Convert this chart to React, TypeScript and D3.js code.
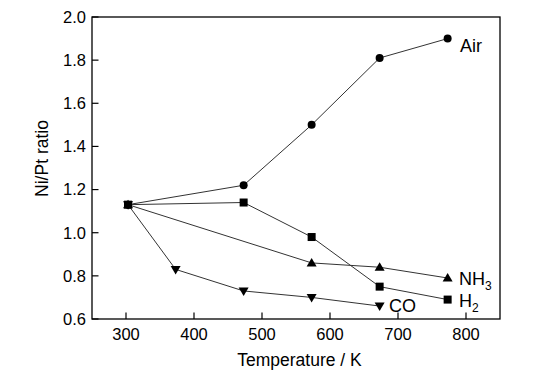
import React from "react";
import * as d3 from "d3";

const airX = [303, 473, 573, 673, 773];
const airY = [1.13, 1.22, 1.5, 1.81, 1.9];
const h2X = [303, 473, 573, 673, 773];
const h2Y = [1.13, 1.14, 0.98, 0.75, 0.69];
const nh3X = [303, 573, 673, 773];
const nh3Y = [1.13, 0.86, 0.84, 0.79];
const coX = [303, 373, 473, 573, 673];
const coY = [1.13, 0.83, 0.73, 0.7, 0.66];
const xTicks = [300, 400, 500, 600, 700, 800];
const yTicks = [0.6, 0.8, 1.0, 1.2, 1.4, 1.6, 1.8, 2.0];

const W = 555, H = 381;
const L = 92, R = 500, T = 17, B = 319;

export default function App() {
  const x = d3.scaleLinear().domain([250, 850]).range([L, R]);
  const y = d3.scaleLinear().domain([0.6, 2.0]).range([B, T]);
  const line = d3.line<[number, number]>().x(d => x(d[0])).y(d => y(d[1]));
  const font = "Arial, 'Liberation Sans', sans-serif";

  const series = [
    { xs: airX, ys: airY, shape: "circle" },
    { xs: h2X, ys: h2Y, shape: "square" },
    { xs: nh3X, ys: nh3Y, shape: "up" },
    { xs: coX, ys: coY, shape: "down" },
  ];

  const marker = (shape: string, cx: number, cy: number, k: string) => {
    if (shape === "circle") return <circle key={k} cx={cx} cy={cy} r={4} fill="#000" />;
    if (shape === "square") return <rect key={k} x={cx - 4} y={cy - 4} width={8} height={8} fill="#000" />;
    if (shape === "up") return <path key={k} d={`M${cx},${cy - 5}L${cx + 5},${cy + 3.5}L${cx - 5},${cy + 3.5}Z`} fill="#000" />;
    return <path key={k} d={`M${cx},${cy + 5}L${cx + 5},${cy - 3.5}L${cx - 5},${cy - 3.5}Z`} fill="#000" />;
  };

  return (
    <svg width={W} height={H} style={{ position: "absolute", left: 0, top: 0, background: "#fff" }} fontFamily={font}>
      <rect x={0} y={0} width={W} height={H} fill="#fff" />
      {series.map((s, i) => (
        <path key={"l" + i} d={line(s.xs.map((v, j) => [v, s.ys[j]]) as [number, number][]) || ""} fill="none" stroke="#333" strokeWidth={1} />
      ))}
      {series.map((s, i) => s.xs.map((v, j) => marker(s.shape, x(v), y(s.ys[j]), `m${i}-${j}`)))}
      <rect x={L} y={T} width={R - L} height={B - T} fill="none" stroke="#000" strokeWidth={1.3} />
      {xTicks.map(t => (
        <g key={"x" + t}>
          <line x1={x(t)} x2={x(t)} y1={B} y2={B - 6.5} stroke="#000" strokeWidth={1.2} />
          <text x={x(t)} y={339.5} fontSize={16.5} textAnchor="middle">{t}</text>
        </g>
      ))}
      {yTicks.map(t => (
        <g key={"y" + t}>
          <line x1={L} x2={L + 6.5} y1={y(t)} y2={y(t)} stroke="#000" strokeWidth={1.2} />
          <text x={L - 6} y={y(t) + 5.8} fontSize={16.5} textAnchor="end">{t.toFixed(1)}</text>
        </g>
      ))}
      <text x={299.5} y={366} fontSize={17.5} textAnchor="middle">Temperature / K</text>
      <text transform={`translate(48,158.5) rotate(-90)`} fontSize={17.5} textAnchor="middle">Ni/Pt ratio</text>
      <text x={460} y={52} fontSize={18}>Air</text>
      <text x={459} y={285} fontSize={18}>NH<tspan fontSize={12} dy={5}>3</tspan></text>
      <text x={459} y={307} fontSize={18}>H<tspan fontSize={12} dy={5}>2</tspan></text>
      <text x={389} y={312} fontSize={18}>CO</text>
    </svg>
  );
}
